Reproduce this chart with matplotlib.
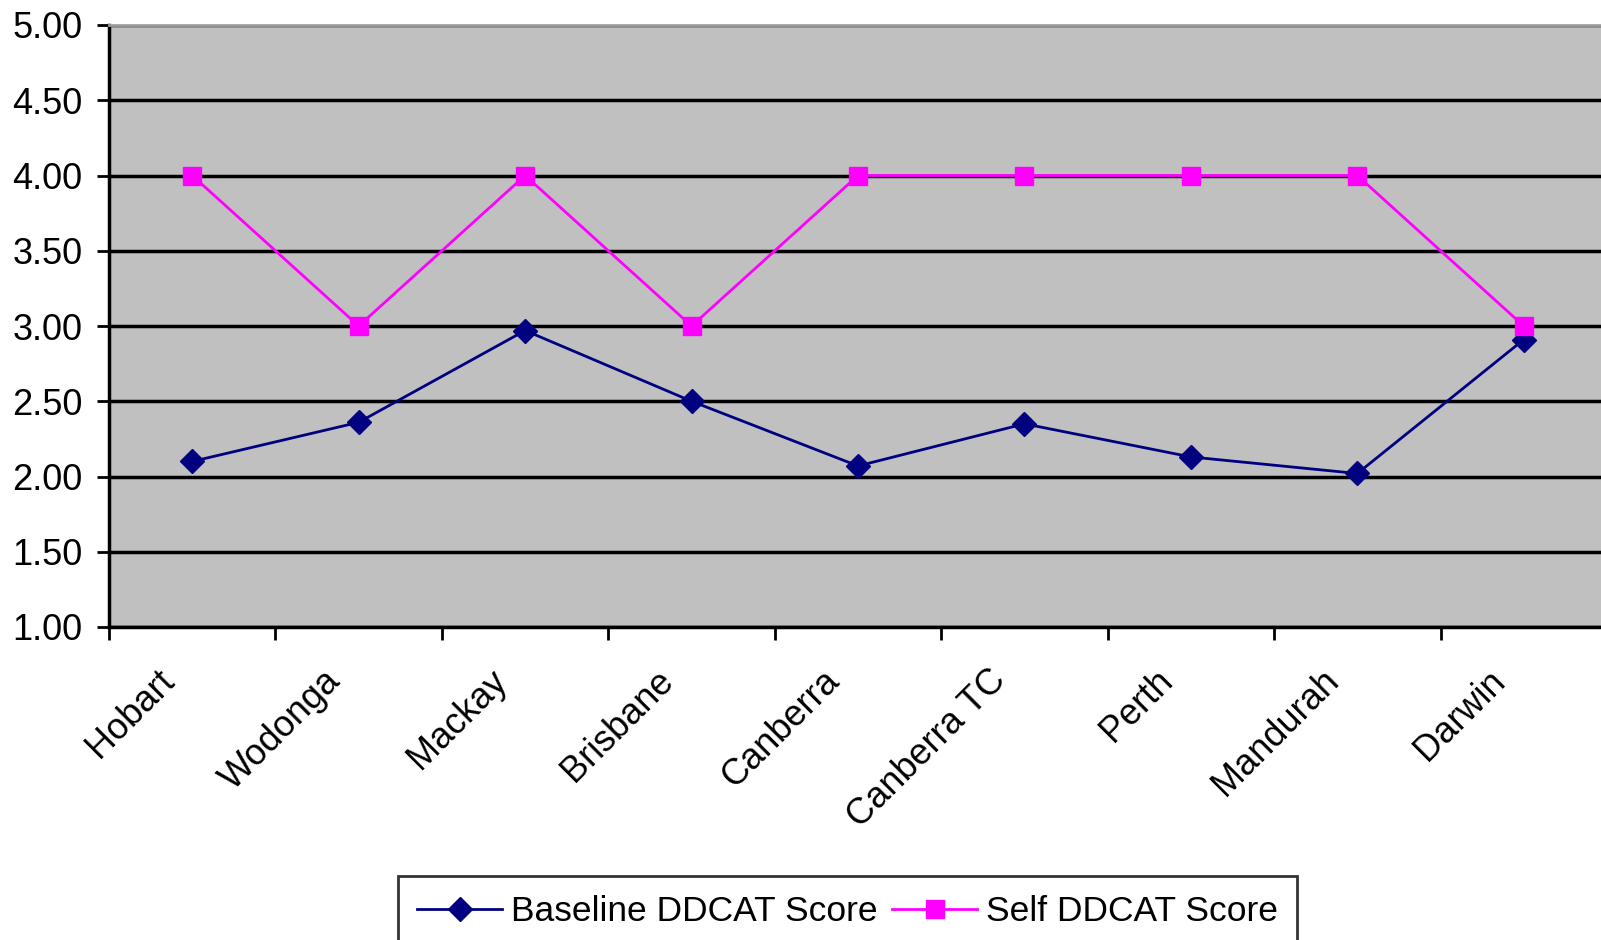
import matplotlib.pyplot as plt
import matplotlib.transforms as mtransforms
import numpy as np

sites = ["Hobart", "Wodonga", "Mackay", "Brisbane", "Canberra",
         "Canberra TC", "Perth", "Mandurah", "Darwin"]
baseline = [2.10, 2.36, 2.97, 2.50, 2.07, 2.35, 2.13, 2.02, 2.91]
self_score = [4.00, 3.00, 4.00, 3.00, 4.00, 4.00, 4.00, 4.00, 3.00]
yticks = [1.00, 1.50, 2.00, 2.50, 3.00, 3.50, 4.00, 4.50, 5.00]

plt.rcParams['font.family'] = ['Liberation Sans', 'DejaVu Sans']

fig = plt.figure(figsize=(16.01, 9.40), dpi=100)
W, H = 1601, 940
# plot area runs off the right edge
ax = fig.add_axes([109 / W, 1 - 627 / H, (1607 - 109) / W, (627 - 25) / H])
ax.set_facecolor("#c0c0c0")

x = np.arange(len(sites)) + 0.5
ax.plot(x, baseline, color="#000080", lw=2.0, marker="D", ms=12,
        label="Baseline DDCAT Score")
ax.plot(x, self_score, color="#ff00ff", lw=2.0, marker="s", ms=13,
        label="Self DDCAT Score")

ax.set_xlim(0, len(sites))
ax.set_ylim(1, 5)
ax.set_yticks(yticks)
ax.set_yticklabels([f"{v:.2f}" for v in yticks], fontsize=26)
ax.yaxis.grid(True, color="black", lw=2.5)
ax.set_axisbelow(True)

# category boundaries carry the ticks, labels sit at the centers
ax.set_xticks(np.arange(len(sites) + 1))
ax.set_xticklabels([])
ax.set_xticks(x, minor=True)
ax.set_xticklabels(sites, minor=True, rotation=45, ha="right",
                   rotation_mode="anchor", fontsize=26)
ax.tick_params(axis="x", which="minor", length=0, pad=26)
ax.tick_params(axis="x", which="major", length=9, width=2, direction="out")
ax.tick_params(axis="y", length=9, width=2, direction="out", pad=10)

shift = mtransforms.ScaledTranslation(-0.36, 0, fig.dpi_scale_trans)
for lbl in ax.get_xticklabels(minor=True):
    lbl.set_transform(lbl.get_transform() + shift)

for s in ["left", "bottom"]:
    ax.spines[s].set_color("black")
    ax.spines[s].set_linewidth(2.5)
ax.spines["top"].set_color("#a0a0a0")
ax.spines["top"].set_linewidth(2)
ax.spines["right"].set_visible(False)

leg = fig.legend(loc="upper left", bbox_to_anchor=(398 / W, 1 - 876 / H),
                 ncol=2, fontsize=25.5, frameon=True, fancybox=False,
                 edgecolor="black", borderpad=0.55, handlelength=2.4,
                 columnspacing=0.4, handletextpad=0.25, borderaxespad=0)
leg.get_frame().set_linewidth(2)

fig.savefig("out.png", dpi=100)
